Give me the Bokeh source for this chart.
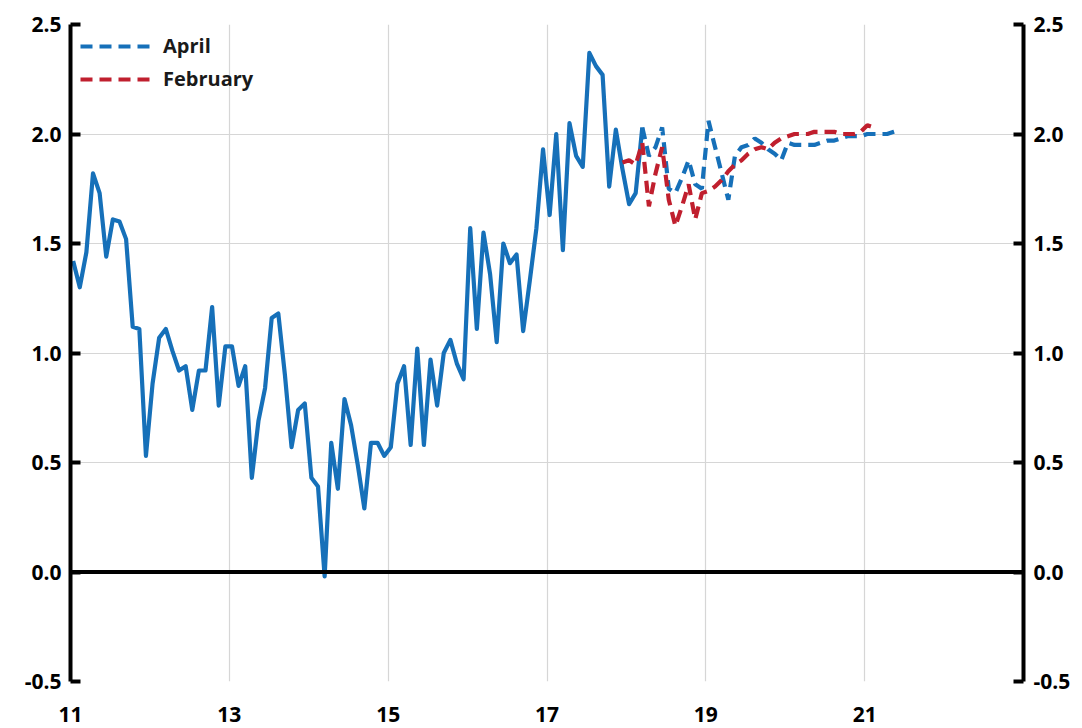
from bokeh.plotting import figure
from bokeh.models import (Range1d, LinearAxis, FixedTicker, NumeralTickFormatter,
                          Span, Legend, LegendItem)
from bokeh.embed import file_html
from bokeh.resources import INLINE

# ---- data (monthly, starting Jan 2011; x axis in years "11".."23") ----
actual_values = [
    1.42, 1.30, 1.46, 1.82, 1.73, 1.44, 1.61, 1.60, 1.52, 1.12, 1.11, 0.53,
    0.86, 1.07, 1.11, 1.01, 0.92, 0.94, 0.74, 0.92, 0.92, 1.21, 0.76, 1.03,
    1.03, 0.85, 0.94, 0.43, 0.69, 0.84, 1.16, 1.18, 0.90, 0.57, 0.74, 0.77,
    0.43, 0.39, -0.02, 0.59, 0.38, 0.79, 0.67, 0.49, 0.29, 0.59, 0.59, 0.53,
    0.57, 0.86, 0.94, 0.58, 1.02, 0.58, 0.97, 0.76, 1.00, 1.06, 0.95, 0.88,
    1.57, 1.11, 1.55, 1.36, 1.05, 1.50, 1.41, 1.45, 1.10, 1.33, 1.57, 1.93,
    1.63, 2.00, 1.47, 2.05, 1.90, 1.85, 2.37, 2.31, 2.27, 1.76, 2.02, 1.84,
    1.68, 1.73, 2.03,
]
april_start = 86
april_values = [
    2.03, 1.90, 1.94, 2.03, 1.75, 1.73, 1.80, 1.88, 1.77, 1.75, 2.06, 1.94,
    1.82, 1.70, 1.90, 1.94, 1.95, 1.98, 1.96, 1.93, 1.91, 1.88, 1.96, 1.95,
    1.95, 1.95, 1.95, 1.96, 1.97, 1.97, 1.98, 1.99, 1.99, 1.99, 2.00, 2.00,
    2.00, 2.00, 2.01, 2.02,
]
feb_start = 83
feb_values = [
    1.87, 1.88, 1.86, 1.96, 1.67, 1.82, 1.94, 1.70, 1.58, 1.67, 1.77, 1.61,
    1.73, 1.74, 1.76, 1.79, 1.83, 1.86, 1.88, 1.91, 1.93, 1.94, 1.93, 1.96,
    1.98, 1.99, 2.00, 2.00, 2.00, 2.01, 2.01, 2.01, 2.01, 2.00, 2.00, 2.00,
    2.01, 2.04, 2.03,
]
x_ticks = [11, 13, 15, 17, 19, 21]
y_ticks = [-0.5, 0.0, 0.5, 1.0, 1.5, 2.0, 2.5]
series_names = ["April", "February"]

START_YEAR = 11
def month_x(start, n):
    return [START_YEAR + (start + k + 0.4) / 12.0 for k in range(n)]

BLUE = "#1670b9"
RED = "#c01f2e"
FONT = "Open Sans"
FS = "21px"

p = figure(width=1080, height=727, output_backend="svg", toolbar_location=None,
           x_range=Range1d(11, 23), y_range=Range1d(-0.5, 2.5),
           min_border_left=70, min_border_right=57, min_border_top=24,
           min_border_bottom=46)
p.outline_line_color = None
p.background_fill_color = "white"

# grid
p.xgrid.ticker = FixedTicker(ticks=x_ticks)
p.ygrid.ticker = FixedTicker(ticks=y_ticks)
for g in (p.xgrid[0], p.ygrid[0]):
    g.grid_line_color = "#d6d6d6"
    g.grid_line_width = 1.2

# bottom axis
xa = p.xaxis[0]
xa.ticker = FixedTicker(ticks=x_ticks)
xa.formatter = NumeralTickFormatter(format="0")
xa.axis_line_color = None
xa.major_tick_line_color = None
xa.minor_tick_line_color = None
xa.major_label_standoff = 19
xa.major_label_text_font = FONT
xa.major_label_text_font_style = "bold"
xa.major_label_text_font_size = FS
xa.major_label_text_color = "black"

def style_y(ax, standoff):
    ax.ticker = FixedTicker(ticks=y_ticks)
    ax.formatter = NumeralTickFormatter(format="0.0")
    ax.axis_line_width = 4
    ax.axis_line_color = "black"
    ax.major_tick_in = 10
    ax.major_tick_out = 0
    ax.major_tick_line_width = 4
    ax.major_tick_line_color = "black"
    ax.minor_tick_line_color = None
    ax.major_label_standoff = standoff
    ax.major_label_text_font = FONT
    ax.major_label_text_font_style = "bold"
    ax.major_label_text_font_size = FS
    ax.major_label_text_color = "black"

style_y(p.yaxis[0], 9)
ry = LinearAxis()
style_y(ry, 10)
p.add_layout(ry, "right")

# zero line
p.add_layout(Span(location=0, dimension="width", line_color="black", line_width=4))

# series
p.line(month_x(0, len(actual_values)), actual_values, line_color=BLUE,
       line_width=4.2, line_join="round")
r_apr = p.line(month_x(april_start, len(april_values)), april_values,
               line_color=BLUE, line_width=4.2, line_dash="12 7")
r_feb = p.line(month_x(feb_start, len(feb_values)), feb_values,
               line_color=RED, line_width=4.2, line_dash="12 7")

legend = Legend(items=[LegendItem(label=series_names[0], renderers=[r_apr]),
                       LegendItem(label=series_names[1], renderers=[r_feb])],
                location=(10, 589))
legend.margin = 0
legend.padding = 0
legend.glyph_width = 72
legend.glyph_height = 24
legend.label_height = 24
legend.label_standoff = 11
legend.spacing = 6
legend.border_line_color = None
legend.background_fill_alpha = 0
legend.label_text_font = FONT
legend.label_text_font_style = "bold"
legend.label_text_font_size = "20px"
legend.label_text_color = "#1a1a1a"
p.add_layout(legend)

open("out.html", "w").write(file_html(p, INLINE))
